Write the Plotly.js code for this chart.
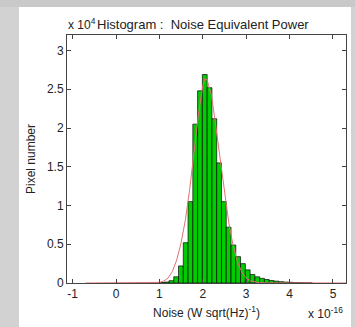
<!DOCTYPE html>
<html>
<head>
<meta charset="utf-8">
<script src="https://cdn.plot.ly/plotly-3.0.1.min.js"></script>
<style>
html,body{margin:0;padding:0;width:355px;height:327px;background:#d2d2d2;overflow:hidden;}
#panel{position:absolute;left:19px;top:7px;width:332px;height:320px;background:#ffffff;}
#top{position:absolute;left:0;top:0;width:355px;height:7px;background:#c9c9c9;}
#chart{position:absolute;left:0;top:0;width:355px;height:327px;}
</style>
</head>
<body>
<div id="top"></div>
<div id="panel"></div>
<div id="chart"></div>
<script>
// Histogram bin centers (x 1e-16 W sqrt(Hz)^-1)
const binCenters = [0.835, 0.945, 1.055, 1.165, 1.275, 1.385, 1.495, 1.605, 1.715, 1.825,
  1.935, 2.045, 2.155, 2.265, 2.375, 2.485, 2.595, 2.705, 2.815, 2.925,
  3.035, 3.145, 3.255, 3.365, 3.475, 3.585, 3.695, 3.805, 3.915, 4.025,
  4.135, 4.245, 4.355, 4.465];
// Pixel counts (x 1e4)
const binCounts = [0.001, 0.002, 0.005, 0.012, 0.03, 0.08, 0.22, 0.52, 1.05, 2.05,
  2.48, 2.69, 2.52, 2.12, 1.55, 1.05, 0.72, 0.49, 0.34, 0.25,
  0.17, 0.11, 0.08, 0.06, 0.045, 0.032, 0.024, 0.017, 0.012, 0.009,
  0.006, 0.004, 0.003, 0.002];
// Fitted curve (x 1e4)
const fitX = [-0.7, 0.6, 0.9, 1.0, 1.1, 1.2, 1.3, 1.4, 1.5, 1.6, 1.7, 1.8, 1.9, 2.0, 2.05, 2.1,
  2.2, 2.3, 2.4, 2.5, 2.6, 2.7, 2.8, 2.9, 3.0, 3.1, 3.2, 3.3, 3.5, 3.8, 5.3];
const fitY = [0, 0, 0.003, 0.008, 0.025, 0.065, 0.15, 0.3, 0.52, 0.82, 1.22, 1.7, 2.18, 2.55, 2.64, 2.62,
  2.42, 2.02, 1.58, 1.15, 0.77, 0.48, 0.27, 0.14, 0.065, 0.028, 0.011, 0.004, 0.001, 0, 0];
const xTicks = [-1, 0, 1, 2, 3, 4, 5];
const yTicks = [0, 0.5, 1, 1.5, 2, 2.5, 3];
const yTickLabels = ['0', '0.5', '1', '1.5', '2', '2.5', '3'];

const fam = 'Liberation Sans, Arial, sans-serif';
const font = {family: fam, size: 12, color: '#222222'};

const traces = [
  {type: 'bar', x: binCenters, y: binCounts, width: 0.11,
   marker: {color: '#00cc00', line: {color: '#0a0a0a', width: 0.7}},
   hoverinfo: 'skip'},
  {type: 'scatter', mode: 'lines', x: fitX, y: fitY,
   line: {color: '#e07272', width: 1}, hoverinfo: 'skip'}
];

const axisCommon = {
  showline: true, linecolor: '#444', linewidth: 1, mirror: 'ticks',
  ticks: 'inside', ticklen: 4, tickcolor: '#444', showgrid: false, zeroline: false,
  tickfont: font
};

const layout = {
  width: 355, height: 327,
  margin: {l: 67, r: 9, t: 35, b: 44},
  paper_bgcolor: 'rgba(0,0,0,0)', plot_bgcolor: '#ffffff',
  showlegend: false, bargap: 0,
  font: font,
  xaxis: Object.assign({}, axisCommon, {
    range: [-1.13, 5.3], tickvals: xTicks, ticktext: xTicks.map(String),
    title: {text: 'Noise (W sqrt(Hz)<sup>-1</sup>)', font: font, standoff: 8}
  }),
  yaxis: Object.assign({}, axisCommon, {
    range: [0, 3.2], tickvals: yTicks, ticktext: yTickLabels,
    title: {text: 'Pixel number', font: font, standoff: 8}
  }),
  annotations: [
    {xref: 'paper', yref: 'paper', x: 0.1, y: 1, yshift: 1, xanchor: 'left', yanchor: 'bottom',
     text: 'Histogram :  Noise Equivalent Power', showarrow: false, font: {family: fam, size: 13, color: '#222222'}},
    {xref: 'paper', yref: 'paper', x: 0, y: 1, yshift: 1, xshift: -1, xanchor: 'left', yanchor: 'bottom',
     text: 'x 10<sup>4</sup>', showarrow: false, font: font},
    {xref: 'paper', yref: 'paper', x: 1, y: 0, yshift: -20, xshift: -1, xanchor: 'right', yanchor: 'top',
     text: 'x 10<sup>-16</sup>', showarrow: false, font: font}
  ]
};

Plotly.newPlot('chart', traces, layout, {staticPlot: true, displayModeBar: false});
</script>
</body>
</html>
